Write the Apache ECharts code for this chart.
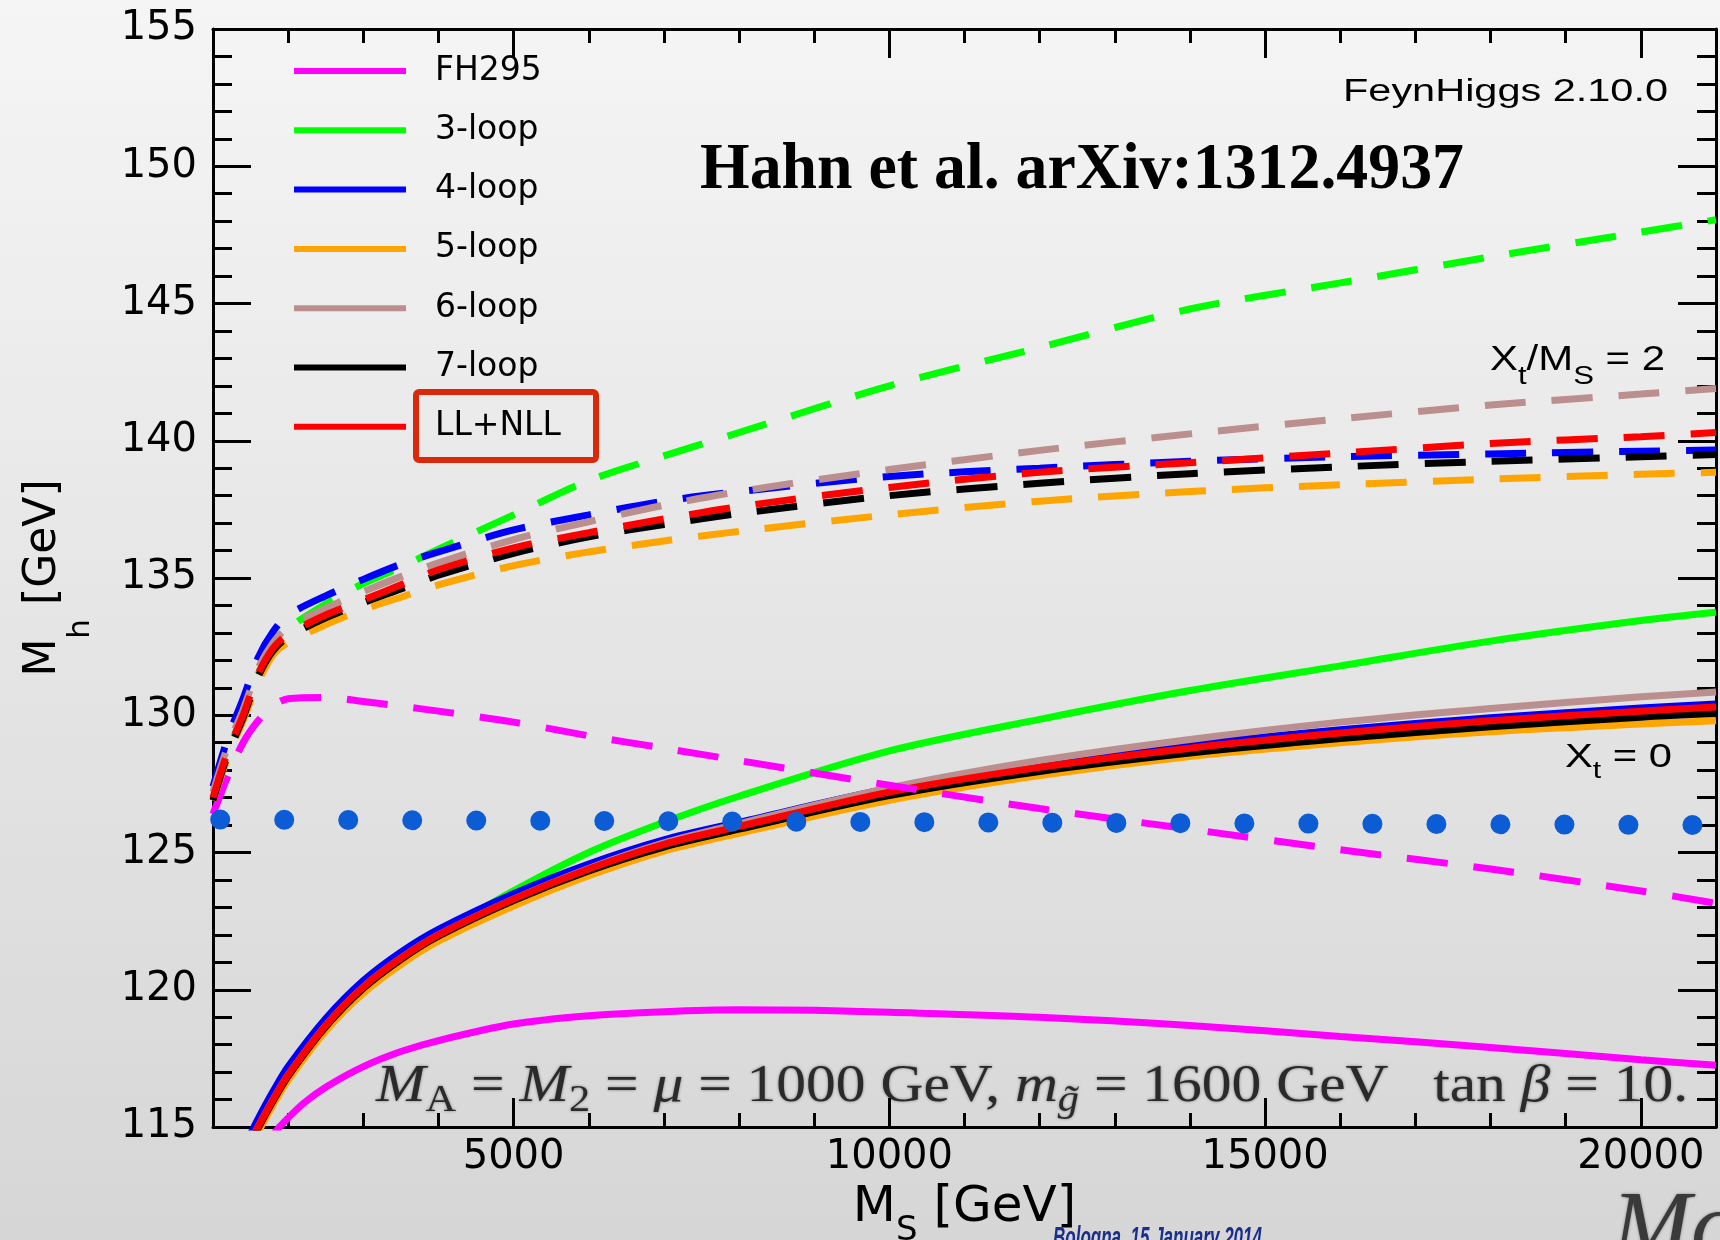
<!DOCTYPE html>
<html>
<head>
<meta charset="utf-8">
<script src="https://cdn.jsdelivr.net/npm/echarts@6/dist/echarts.min.js"></script>
<style>html,body{margin:0;padding:0;}#c{width:1720px;height:1240px;}</style>
</head>
<body>
<div id="c"></div>
<script>
// ---------------- data ----------------
const NAMES  = ['FH295', '3-loop', '4-loop', '5-loop', '6-loop', '7-loop', 'LL+NLL'];
const COLORS = ['#ff00ff', '#00ff00', '#0000ff', '#ffa500', '#bc8f8f', '#000000', '#ff0000'];

const X_MAJOR = [5000, 10000, 15000, 20000];

// X_t / M_S = 2 (dashed)
const X_DASH = [1000,1200,1400,1600,1800,2000,2500,3000,3500,4000,5000,6000,7000,8000,10000,12000,14000,16000,18000,20000,21000];
const FH295_D = [126.4,127.8,129.0,129.8,130.35,130.6,130.65,130.5,130.33,130.15,129.75,129.25,128.8,128.35,127.45,126.6,125.85,125.1,124.4,123.6,123.15];
const LOOP3_D = [126.9,128.6,130.1,131.5,132.45,133.15,134.05,134.8,135.4,136.05,137.3,138.55,139.45,140.3,142.0,143.4,144.8,145.75,146.7,147.6,148.05];
const LOOP4_D = [127.4,129.2,130.6,132.1,133.05,133.65,134.35,134.95,135.5,135.95,136.75,137.3,137.8,138.15,138.7,139.0,139.25,139.42,139.52,139.62,139.66];
const LOOP5_D = [126.9,128.5,129.8,131.2,132.2,132.65,133.3,133.85,134.3,134.75,135.45,135.95,136.35,136.7,137.3,137.8,138.15,138.4,138.6,138.78,138.85];
const LOOP6_D = [127.2,128.9,130.2,131.7,132.65,133.2,133.9,134.5,135.05,135.55,136.4,137.05,137.65,138.15,138.95,139.65,140.25,140.8,141.3,141.7,141.9];
const LOOP7_D = [126.9,128.6,129.9,131.4,132.35,132.85,133.55,134.1,134.6,135.1,135.9,136.5,136.95,137.35,138.0,138.45,138.8,139.05,139.25,139.42,139.5];
const LLNLL_D = [127.0,128.7,130.0,131.5,132.45,132.95,133.65,134.2,134.75,135.3,136.1,136.65,137.15,137.6,138.3,138.85,139.2,139.55,139.9,140.15,140.3];

// X_t = 0 (solid)
const X_SOLID = [1500,1600,1800,2000,2500,3000,3500,4000,5000,6000,7000,8000,10000,12000,14000,16000,18000,20000,21000];
const LOOP3_S = [114.35,114.9,115.9,116.8,118.6,120.0,121.1,122.0,123.6,125.0,126.1,127.05,128.7,129.85,130.9,131.8,132.7,133.45,133.75];
const LOOP4_S = [114.75,115.3,116.3,117.2,118.95,120.33,121.37,122.2,123.5,124.58,125.46,126.1,127.33,128.22,128.92,129.47,129.91,130.26,130.41];
const LOOP5_S = [114.25,114.8,115.8,116.7,118.5,119.88,120.92,121.77,123.05,124.15,125.05,125.7,126.9,127.8,128.5,129.0,129.4,129.68,129.8];
const LOOP6_S = [114.45,115.0,116.0,116.9,118.7,120.1,121.15,122.0,123.3,124.42,125.35,126.05,127.35,128.35,129.12,129.75,130.25,130.67,130.85];
const LOOP7_S = [114.4,114.95,115.95,116.85,118.65,120.05,121.1,121.95,123.25,124.33,125.2,125.85,127.07,127.95,128.62,129.15,129.58,129.93,130.06];
const LLNLL_S = [114.45,115.0,116.0,116.9,118.7,120.1,121.15,122.0,123.3,124.4,125.3,125.95,127.2,128.1,128.8,129.35,129.8,130.15,130.3];

const X_FH_S  = [1800,1900,2200,2500,3000,3500,4000,5000,6000,7000,8000,9000,10000,12000,14000,16000,18000,20000,21000];
const FH295_S = [114.72,115.05,115.85,116.45,117.2,117.75,118.15,118.75,119.05,119.2,119.27,119.25,119.18,119.0,118.7,118.3,117.9,117.45,117.25];

// dotted reference line
const DOT_X = [1096, 20700];
const DOT_Y = [126.2, 126.0];

// ---------------- chart ----------------
const chart = echarts.init(document.getElementById('c'), null, {renderer: 'canvas'});

function pairs(xs, ys) { return xs.map((x, i) => [x, ys[i]]); }

const SOLID = [[X_FH_S, FH295_S], [X_SOLID, LOOP3_S], [X_SOLID, LOOP4_S], [X_SOLID, LOOP5_S], [X_SOLID, LOOP6_S], [X_SOLID, LOOP7_S], [X_SOLID, LLNLL_S]];
const DASHED = [FH295_D, LOOP3_D, LOOP4_D, LOOP5_D, LOOP6_D, LOOP7_D, LLNLL_D];

const series = [];
NAMES.forEach((n, i) => {
  series.push({
    type: 'line', name: n, data: pairs(SOLID[i][0], SOLID[i][1]),
    symbol: 'none', showSymbol: false, smooth: 0.3, silent: true,
    lineStyle: {color: COLORS[i], width: 7}, itemStyle: {color: COLORS[i]}
  });
});
NAMES.forEach((n, i) => {
  series.push({
    type: 'line', name: n, data: pairs(X_DASH, DASHED[i]),
    symbol: 'none', showSymbol: false, smooth: 0.3, silent: true,
    lineStyle: {color: COLORS[i], width: 7, type: [41, 26]}, itemStyle: {color: COLORS[i]}
  });
});
series.push({
  type: 'line', name: 'measured', data: pairs(DOT_X, DOT_Y),
  symbol: 'none', showSymbol: false, silent: true, z: 5,
  lineStyle: {color: '#0b5cd5', width: 20, type: [0.01, 64], cap: 'round'}
});

const AX = {color: '#000', width: 3};
const LABEL_FONT = 'DejaVu Sans';

function xAx(pos, major, labels) {
  return {
    type: 'value', position: pos, min: 1000, max: 21000, interval: 1000,
    axisLine: {show: !major, onZero: false, lineStyle: AX},
    axisTick: major ? {show: true, inside: true, length: 29, customValues: X_MAJOR, lineStyle: AX}
                    : {show: true, inside: true, length: 14, lineStyle: AX},
    axisLabel: labels ? {show: true, margin: 11, fontFamily: LABEL_FONT, fontSize: 40, color: '#000',
                         formatter: v => X_MAJOR.indexOf(v) >= 0 ? String(v) : ''} : {show: false},
    splitLine: {show: false}
  };
}
const xAxes = [xAx('bottom', false, true), xAx('bottom', true, false), xAx('top', false, false), xAx('top', true, false)];
xAxes[0].name = '{m|M}{s|S}{m| [GeV]}';
xAxes[0].nameLocation = 'middle';
xAxes[0].nameGap = 53;
xAxes[0].nameTextStyle = {
  fontFamily: LABEL_FONT, fontSize: 50, color: '#000',
  rich: {
    m: {fontFamily: LABEL_FONT, fontSize: 50, color: '#000', padding: [0, 0, 15, 0]},
    s: {fontFamily: LABEL_FONT, fontSize: 34, color: '#000', verticalAlign: 'bottom'}
  }
};

function yAx(pos, labels) {
  return {
    type: 'value', position: pos, min: 115, max: 155, interval: 5,
    axisLine: {show: true, onZero: false, lineStyle: AX},
    axisTick: {show: true, inside: true, length: 38, lineStyle: AX},
    minorTick: {show: true, splitNumber: 5, length: 19, lineStyle: AX},
    axisLabel: labels ? {show: true, margin: 16, fontFamily: LABEL_FONT, fontSize: 40, color: '#000'} : {show: false},
    splitLine: {show: false}, minorSplitLine: {show: false}
  };
}
const yAxes = [yAx('left', true), yAx('right', false)];
yAxes[0].name = '{m|M}{s|h}{m| [GeV]}';
yAxes[0].nameLocation = 'middle';
yAxes[0].nameRotate = 90;
yAxes[0].nameGap = 117;
yAxes[0].nameTextStyle = {
  fontFamily: LABEL_FONT, fontSize: 44, color: '#000',
  rich: {
    m: {fontFamily: LABEL_FONT, fontSize: 44, color: '#000', padding: [0, 0, 30, 0]},
    s: {fontFamily: LABEL_FONT, fontSize: 31, color: '#000', verticalAlign: 'bottom'}
  }
};

// -------- free text annotations (fitted to the widths seen in the picture) --------
function fitText(x, y, style, targetWidth) {
  style.legacy = false;
  let sx = 1;
  try {
    const probe = new echarts.graphic.Text({style: Object.assign({}, style)});
    const w = probe.getBoundingRect().width;
    if (w > 0 && isFinite(w)) sx = targetWidth / w;
  } catch (e) {}
  return {type: 'text', x: x, y: y, scaleX: sx, silent: true, z: 50, style: style};
}

const SANS = 'Liberation Sans';
const SERIF = 'Liberation Serif';

function richSans(F, f, P) {
  return {
    m: {fontFamily: SANS, fontSize: F, fill: '#000', padding: [0, 0, P, 0]},
    s: {fontFamily: SANS, fontSize: f, fill: '#000', verticalAlign: 'bottom'}
  };
}

const MATH_F = 52, MATH_f = 37, MATH_P = 6;
const mathRich = {
  m:  {fontFamily: SERIF, fontSize: MATH_F, fill: '#2a2a2a', padding: [0, 0, MATH_P, 0]},
  i:  {fontFamily: SERIF, fontSize: MATH_F, fontStyle: 'italic', fill: '#2a2a2a', padding: [0, 0, MATH_P, 0]},
  s:  {fontFamily: SERIF, fontSize: MATH_f, fill: '#2a2a2a', verticalAlign: 'bottom'},
  si: {fontFamily: SERIF, fontSize: MATH_f, fontStyle: 'italic', fill: '#2a2a2a', verticalAlign: 'bottom'}
};

const graphics = [
  {type: 'rect', silent: true, z: 50, shape: {x: 416, y: 392, width: 180, height: 68, r: 3},
   style: {fill: 'none', stroke: '#dc280a', lineWidth: 6}},
  fitText(1343, 92, {text: 'FeynHiggs 2.10.0', fontFamily: SANS, fontSize: 31, fill: '#000',
                     align: 'left', verticalAlign: 'middle'}, 325),
  fitText(700, 171.5, {text: 'Hahn et al. arXiv:1312.4937', fontFamily: SERIF, fontWeight: 'bold', fontSize: 65,
                       fill: '#000', align: 'left', verticalAlign: 'middle'}, 764),
  fitText(1490, 343, {text: '{m|X}{s|t}{m|/M}{s|S}{m| = 2}', fontFamily: SANS, fontSize: 35, fill: '#000',
                      align: 'left', verticalAlign: 'top', rich: richSans(35, 26, 12)}, 175),
  fitText(1565, 741.5, {text: '{m|X}{s|t}{m| = 0}', fontFamily: SANS, fontSize: 33, fill: '#000',
                        align: 'left', verticalAlign: 'top', rich: richSans(33, 24, 9)}, 107),
  fitText(376, 1087.5 - MATH_F / 2,
          {text: '{i|M}{s|A}{m| = }{i|M}{s|2}{m| = }{i|\u03bc}{m| = 1000 GeV, }{i|m}{si|g\u0303}{m| = 1600 GeV   tan }{i|\u03b2}{m| = 10.}',
           fontFamily: SERIF, fontSize: MATH_F, fill: '#2a2a2a', align: 'left', verticalAlign: 'top',
           textShadowBlur: 3, textShadowColor: 'rgba(0,0,0,0.45)', rich: mathRich}, 1312),
  // slide footer fragments, cut by the bottom edge of the picture
  fitText(1053, 1239, {text: 'Bologna, 15 January 2014', fontFamily: SANS, fontStyle: 'italic', fontWeight: 'bold',
                       fontSize: 30, fill: '#1a2e8c', align: 'left', verticalAlign: 'middle'}, 209),
  {type: 'text', x: 1612, y: 1232, silent: true, z: 50,
   style: {legacy: false, text: 'Mo', fontFamily: SERIF, fontStyle: 'italic', fontSize: 95, fill: '#3a3a3a',
           align: 'left', verticalAlign: 'middle', textShadowBlur: 3, textShadowColor: 'rgba(0,0,0,0.4)'}}
];

const option = {
  animation: false,
  backgroundColor: {
    type: 'linear', x: 0, y: 0, x2: 0, y2: 1,
    colorStops: [{offset: 0, color: '#f5f5f5'}, {offset: 1, color: '#d6d6d6'}]
  },
  grid: {left: 213, top: 29, width: 1503, height: 1098, containLabel: false, outerBoundsMode: 'none'},
  legend: {
    data: NAMES, orient: 'vertical', left: 294, top: 51, padding: 0,
    itemGap: 19.3, itemWidth: 112, itemHeight: 6, icon: 'rect', selectedMode: false,
    itemStyle: {borderWidth: 0},
    textStyle: {fontFamily: LABEL_FONT, fontSize: 33, color: '#000', lineHeight: 40, padding: [0, 0, 0, 24]}
  },
  xAxis: xAxes,
  yAxis: yAxes,
  series: series,
  graphic: graphics
};

chart.setOption(option);
</script>
</body>
</html>
